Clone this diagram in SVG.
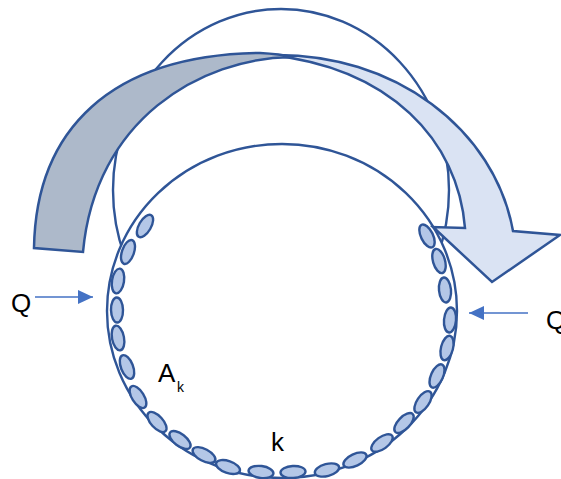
<svg xmlns="http://www.w3.org/2000/svg" width="561" height="479" viewBox="0 0 561 479">
<defs>
<style>
.ol{stroke:#2F5597;stroke-width:2.5;stroke-linejoin:miter}
.ring{fill:#FFFFFF;stroke:#2F5597;stroke-width:2.4}
.ball{fill:#B4C7E7;stroke:#2F5597;stroke-width:2.4}
.q{stroke:#4472C4;stroke-width:1.5;fill:none}
.t{font-family:"Liberation Sans","Open Sans",sans-serif;fill:#000000}
</style>
<marker id="ah" viewBox="0 0 15 14" refX="15" refY="7" markerWidth="15" markerHeight="14" markerUnits="userSpaceOnUse" orient="auto">
<path d="M0,0 L15,7 L0,14 Z" fill="#4472C4"/>
</marker>
</defs>
<rect width="561" height="479" fill="#FFFFFF"/>
<g id="upper-ring">
<ellipse cx="281" cy="190" rx="168" ry="181" class="ring"/>
</g>
<g id="lower-ring">
<ellipse cx="282" cy="311" rx="175" ry="167" class="ring"/>
</g>
<g id="arrow-light">
<path class="ol" fill="#DAE3F3" d="M270,55 C395,52 495,130 513,231 L560,235 L492,282 L433,227 L465,228 C458,140 390,68 270,55 Z"/>
</g>
<g id="arrow-gray">
<path class="ol" fill="#ADB9CA" d="M34,248 C36,130 110,55 260,53 Q280,54 292,57 C200,58 95,120 83,252 Z"/>
</g>
<g id="balls">
<ellipse class="ball" cx="427" cy="236" rx="6" ry="12.5" transform="rotate(-25.9 427 236)"/>
<ellipse class="ball" cx="439" cy="261" rx="6" ry="12.5" transform="rotate(-16.1 439 261)"/>
<ellipse class="ball" cx="445" cy="290" rx="6" ry="12.5" transform="rotate(-5.6 445 290)"/>
<ellipse class="ball" cx="450" cy="320" rx="6" ry="12.5" transform="rotate(4.8 450 320)"/>
<ellipse class="ball" cx="447" cy="348" rx="6" ry="12.5" transform="rotate(14.4 447 348)"/>
<ellipse class="ball" cx="437" cy="376" rx="6" ry="12.5" transform="rotate(24.4 437 376)"/>
<ellipse class="ball" cx="423" cy="402" rx="6" ry="12.5" transform="rotate(34.4 423 402)"/>
<ellipse class="ball" cx="404" cy="423" rx="6" ry="12.5" transform="rotate(44 404 423)"/>
<ellipse class="ball" cx="382" cy="443" rx="6" ry="12.5" transform="rotate(54.1 382 443)"/>
<ellipse class="ball" cx="355" cy="460" rx="6" ry="12.5" transform="rotate(64.9 355 460)"/>
<ellipse class="ball" cx="327" cy="470" rx="6" ry="12.5" transform="rotate(75 327 470)"/>
<ellipse class="ball" cx="293" cy="472" rx="6" ry="12.5" transform="rotate(86.6 293 472)"/>
<ellipse class="ball" cx="261" cy="472" rx="6" ry="12.5" transform="rotate(97.2 261 472)"/>
<ellipse class="ball" cx="228" cy="467" rx="6" ry="12.5" transform="rotate(108.9 228 467)"/>
<ellipse class="ball" cx="204" cy="455" rx="6" ry="12.5" transform="rotate(117.9 204 455)"/>
<ellipse class="ball" cx="180" cy="440" rx="6" ry="12.5" transform="rotate(127.5 180 440)"/>
<ellipse class="ball" cx="157" cy="422" rx="6" ry="12.5" transform="rotate(137.4 157 422)"/>
<ellipse class="ball" cx="138" cy="397" rx="6" ry="12.5" transform="rotate(147.9 138 397)"/>
<ellipse class="ball" cx="127" cy="367" rx="6" ry="12.5" transform="rotate(158.6 127 367)"/>
<ellipse class="ball" cx="118" cy="338" rx="6" ry="12.5" transform="rotate(169 118 338)"/>
<ellipse class="ball" cx="117" cy="310" rx="6" ry="12.5" transform="rotate(178.6 117 310)"/>
<ellipse class="ball" cx="118" cy="281" rx="6" ry="12.5" transform="rotate(189 118 281)"/>
<ellipse class="ball" cx="128" cy="252" rx="6" ry="12.5" transform="rotate(199.2 128 252)"/>
<ellipse class="ball" cx="145" cy="226" rx="6" ry="12.5" transform="rotate(210.1 145 226)"/>
</g>
<g id="connectors">
<line class="q" x1="35" y1="297" x2="93" y2="297" marker-end="url(#ah)"/>
<line class="q" x1="528" y1="313" x2="469" y2="313" marker-end="url(#ah)"/>
</g>
<g id="labels">
<text class="t" x="11" y="312" font-size="26">Q</text>
<text class="t" x="546" y="329" font-size="26">Q</text>
<text class="t" x="158" y="382" font-size="26">A</text>
<text class="t" x="177" y="392" font-size="14">k</text>
<text class="t" x="271" y="451" font-size="26">k</text>
</g>
</svg>
